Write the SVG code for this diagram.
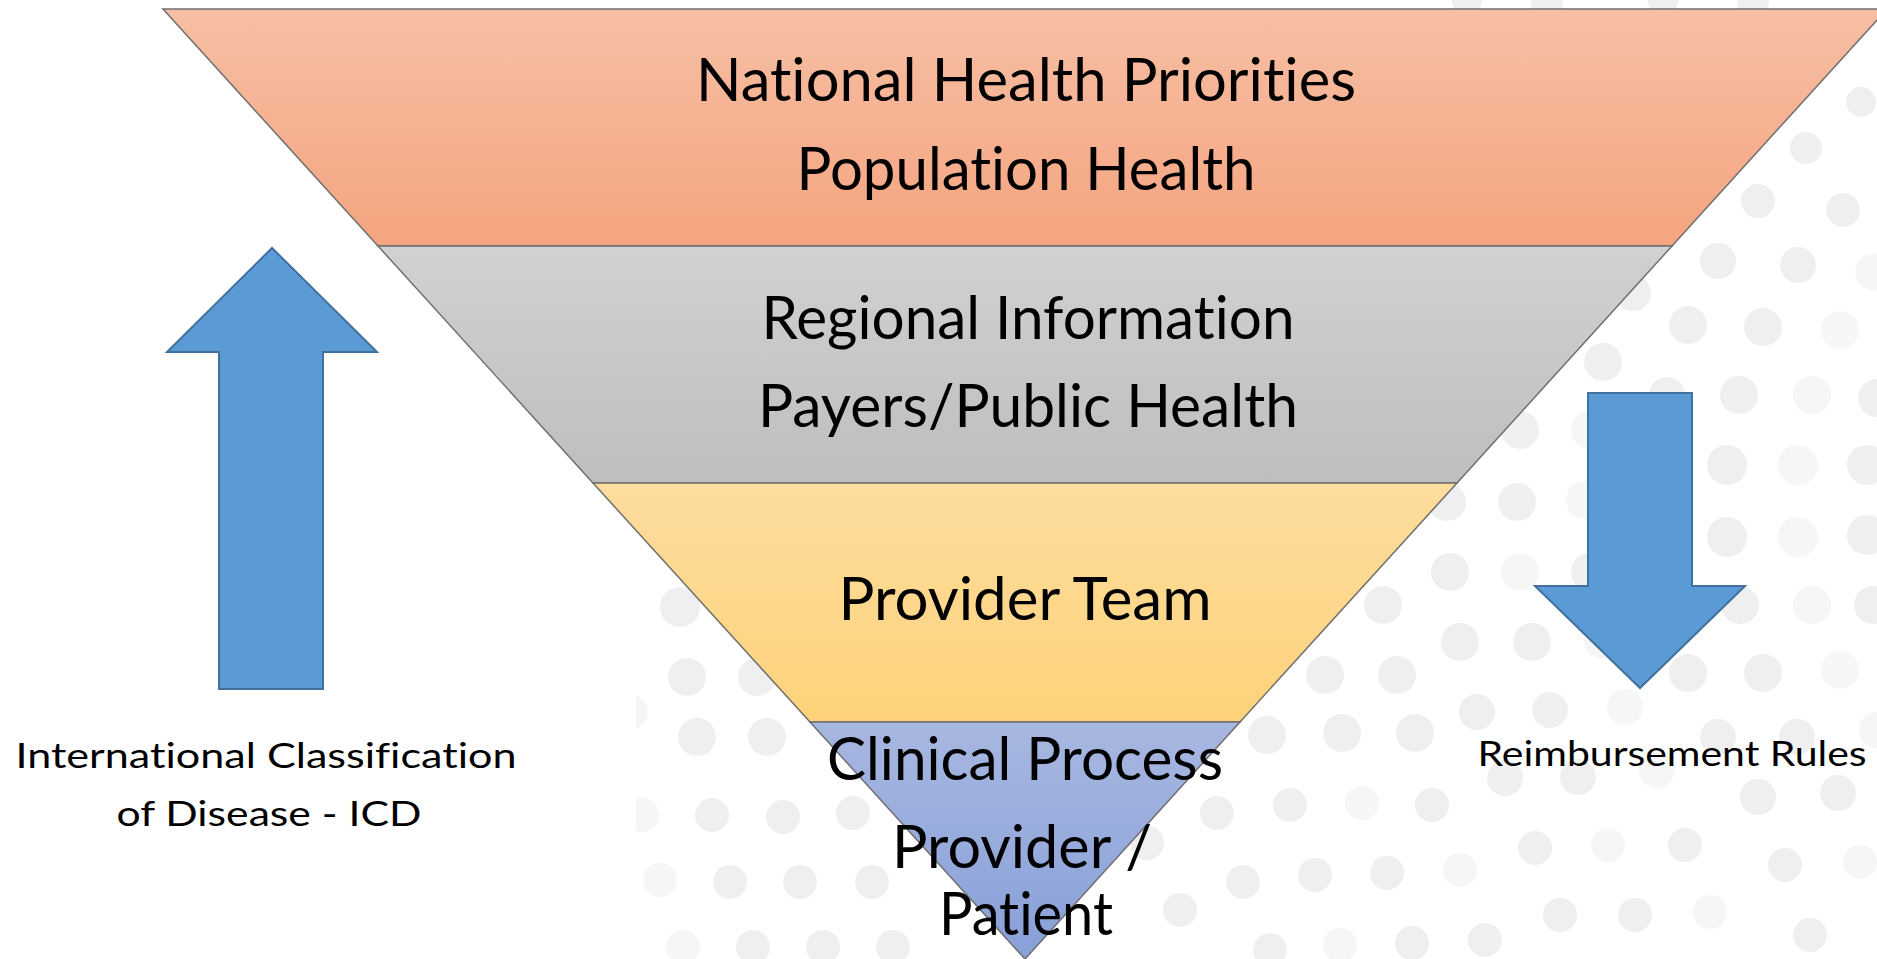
<svg xmlns="http://www.w3.org/2000/svg" width="1877" height="959" viewBox="0 0 1877 959">
  <style>
    .band { stroke: #6f6f6f; stroke-width: 1.5; stroke-linejoin: miter; }
    .big { font-family: Lato, "Open Sans", "Liberation Sans", sans-serif; font-size: 60px; fill: #000; text-anchor: middle; font-variant-ligatures: none; }
    .small { font-family: Lato, "Open Sans", "Liberation Sans", sans-serif; font-size: 35px; fill: #000; text-anchor: middle; font-variant-ligatures: none; }
    .arrow { fill: #5b9bd5; stroke: #41719c; stroke-width: 2; }
    .d { fill: #efefef; }
    .f { fill: #f6f6f6; }
  </style>
  <defs>
    <linearGradient id="gOrange" x1="0" y1="0" x2="0" y2="1">
      <stop offset="0" stop-color="#f6bfa4"/>
      <stop offset="1" stop-color="#f5a47f"/>
    </linearGradient>
    <linearGradient id="gGray" x1="0" y1="0" x2="0" y2="1">
      <stop offset="0" stop-color="#d1d1d1"/>
      <stop offset="1" stop-color="#bebebe"/>
    </linearGradient>
    <linearGradient id="gYellow" x1="0" y1="0" x2="0" y2="1">
      <stop offset="0" stop-color="#fddd9e"/>
      <stop offset="1" stop-color="#fdd27a"/>
    </linearGradient>
    <linearGradient id="gBlue" x1="0" y1="0" x2="0" y2="1">
      <stop offset="0" stop-color="#a7b7e0"/>
      <stop offset="1" stop-color="#88a0d8"/>
    </linearGradient>
    <clipPath id="dotArea">
      <rect x="636" y="0" width="1241" height="959"/>
    </clipPath>
  </defs>

  <rect width="1877" height="959" fill="#ffffff"/>

  <!-- dotted backdrop (right and lower part of the slide) -->
  <g id="backdrop" clip-path="url(#dotArea)">
    <!-- top right -->
    <circle class="d" cx="1467" cy="0" r="15"/>
    <circle class="d" cx="1547" cy="3" r="16"/>
    <circle class="d" cx="1663" cy="-2" r="16"/>
    <circle class="d" cx="1753" cy="2" r="16"/>
    <circle class="d" cx="1861" cy="102" r="15"/>
    <circle class="d" cx="1806" cy="148" r="16"/>
    <circle class="d" cx="1758" cy="201" r="17"/>
    <circle class="d" cx="1843" cy="210" r="17"/>
    <circle class="d" cx="1718" cy="261" r="18"/>
    <circle class="d" cx="1798" cy="265" r="18"/>
    <circle class="f" cx="1873" cy="272" r="18"/>
    <circle class="d" cx="1633" cy="293" r="18"/>
    <circle class="d" cx="1688" cy="325" r="19"/>
    <circle class="d" cx="1763" cy="327" r="19"/>
    <circle class="f" cx="1840" cy="330" r="19"/>
    <circle class="d" cx="1603" cy="362" r="19"/>
    <circle class="d" cx="1667" cy="395" r="18"/>
    <circle class="d" cx="1739" cy="395" r="19"/>
    <circle class="f" cx="1812" cy="395" r="19"/>
    <circle class="d" cx="1877" cy="398" r="19"/>
    <circle class="d" cx="1520" cy="430" r="19"/>
    <circle class="f" cx="1590" cy="430" r="19"/>
    <circle class="d" cx="1727" cy="465" r="20"/>
    <circle class="f" cx="1798" cy="465" r="20"/>
    <circle class="d" cx="1867" cy="465" r="20"/>
    <circle class="d" cx="1447" cy="502" r="19"/>
    <circle class="d" cx="1517" cy="502" r="19"/>
    <circle class="f" cx="1585" cy="500" r="19"/>
    <circle class="d" cx="1727" cy="537" r="20"/>
    <circle class="f" cx="1798" cy="537" r="20"/>
    <circle class="d" cx="1867" cy="535" r="20"/>
    <circle class="d" cx="1450" cy="572" r="19"/>
    <circle class="f" cx="1520" cy="572" r="19"/>
    <circle class="d" cx="1590" cy="572" r="19"/>
    <circle class="d" cx="1383" cy="605" r="19"/>
    <circle class="d" cx="1740" cy="605" r="19"/>
    <circle class="f" cx="1812" cy="605" r="19"/>
    <circle class="d" cx="1873" cy="605" r="19"/>
    <circle class="d" cx="1460" cy="642" r="19"/>
    <circle class="d" cx="1532" cy="642" r="19"/>
    <circle class="f" cx="1603" cy="640" r="19"/>
    <circle class="d" cx="1325" cy="675" r="19"/>
    <circle class="d" cx="1397" cy="675" r="19"/>
    <circle class="d" cx="1688" cy="673" r="19"/>
    <circle class="d" cx="1763" cy="673" r="19"/>
    <circle class="f" cx="1840" cy="670" r="19"/>
    <!-- lower right -->
    <circle class="d" cx="1477" cy="712" r="18"/>
    <circle class="d" cx="1550" cy="710" r="18"/>
    <circle class="f" cx="1625" cy="707" r="18"/>
    <circle class="d" cx="1267" cy="735" r="19"/>
    <circle class="d" cx="1342" cy="733" r="19"/>
    <circle class="d" cx="1415" cy="733" r="19"/>
    <circle class="d" cx="1718" cy="737" r="18"/>
    <circle class="d" cx="1797" cy="737" r="18"/>
    <circle class="f" cx="1877" cy="730" r="18"/>
    <circle class="d" cx="1505" cy="778" r="18"/>
    <circle class="d" cx="1578" cy="777" r="18"/>
    <circle class="f" cx="1657" cy="770" r="18"/>
    <circle class="d" cx="1758" cy="797" r="18"/>
    <circle class="d" cx="1838" cy="793" r="18"/>
    <circle class="d" cx="1217" cy="813" r="17"/>
    <circle class="d" cx="1290" cy="805" r="17"/>
    <circle class="f" cx="1362" cy="803" r="17"/>
    <circle class="d" cx="1432" cy="805" r="17"/>
    <circle class="d" cx="1147" cy="843" r="17"/>
    <circle class="d" cx="1535" cy="848" r="17"/>
    <circle class="f" cx="1608" cy="845" r="17"/>
    <circle class="d" cx="1685" cy="845" r="17"/>
    <circle class="d" cx="1785" cy="865" r="17"/>
    <circle class="f" cx="1860" cy="862" r="17"/>
    <circle class="d" cx="1243" cy="882" r="17"/>
    <circle class="d" cx="1315" cy="875" r="17"/>
    <circle class="d" cx="1387" cy="873" r="17"/>
    <circle class="f" cx="1460" cy="870" r="17"/>
    <circle class="d" cx="1180" cy="910" r="17"/>
    <circle class="d" cx="1560" cy="915" r="17"/>
    <circle class="d" cx="1635" cy="915" r="17"/>
    <circle class="f" cx="1710" cy="912" r="17"/>
    <circle class="d" cx="1810" cy="935" r="17"/>
    <circle class="d" cx="1270" cy="950" r="17"/>
    <circle class="f" cx="1340" cy="945" r="17"/>
    <circle class="d" cx="1412" cy="943" r="17"/>
    <circle class="d" cx="1485" cy="940" r="17"/>
    <!-- lower left, beside the tip -->
    <circle class="d" cx="680" cy="607" r="20"/>
    <circle class="d" cx="687" cy="677" r="19"/>
    <circle class="d" cx="757" cy="677" r="19"/>
    <circle class="f" cx="630" cy="712" r="18"/>
    <circle class="d" cx="697" cy="737" r="19"/>
    <circle class="d" cx="767" cy="737" r="19"/>
    <circle class="f" cx="642" cy="815" r="17"/>
    <circle class="d" cx="712" cy="815" r="17"/>
    <circle class="d" cx="783" cy="817" r="17"/>
    <circle class="d" cx="853" cy="813" r="17"/>
    <circle class="f" cx="660" cy="880" r="17"/>
    <circle class="d" cx="730" cy="882" r="17"/>
    <circle class="d" cx="800" cy="882" r="17"/>
    <circle class="d" cx="872" cy="882" r="17"/>
    <circle class="f" cx="683" cy="947" r="17"/>
    <circle class="d" cx="753" cy="947" r="17"/>
    <circle class="d" cx="823" cy="947" r="17"/>
    <circle class="d" cx="893" cy="947" r="17"/>
  </g>

  <!-- inverted pyramid, top to bottom -->
  <g id="level-national">
    <polygon class="band" points="163,9 1887,9 1672,246 378,246" fill="url(#gOrange)"/>
    <text class="big" x="1026" y="101" textLength="660" lengthAdjust="spacingAndGlyphs">National Health Priorities</text>
    <text class="big" x="1026" y="190" textLength="459" lengthAdjust="spacingAndGlyphs">Population Health</text>
  </g>
  <g id="level-regional">
    <polygon class="band" points="378,246 1672,246 1457,483 593,483" fill="url(#gGray)"/>
    <text class="big" x="1028" y="339" textLength="533" lengthAdjust="spacingAndGlyphs">Regional Information</text>
    <text class="big" x="1028" y="427" textLength="540" lengthAdjust="spacingAndGlyphs">Payers/Public Health</text>
  </g>
  <g id="level-team">
    <polygon class="band" points="593,483 1457,483 1240,722 810,722" fill="url(#gYellow)"/>
    <text class="big" x="1025" y="620" textLength="373" lengthAdjust="spacingAndGlyphs">Provider Team</text>
  </g>
  <g id="level-clinical">
    <polygon class="band" points="810,722 1240,722 1025,959" fill="url(#gBlue)"/>
    <text class="big" x="1025" y="780" textLength="396" lengthAdjust="spacingAndGlyphs">Clinical Process</text>
    <text class="big" x="1022" y="868" textLength="260" lengthAdjust="spacingAndGlyphs">Provider /</text>
    <text class="big" x="1026" y="935" textLength="174" lengthAdjust="spacingAndGlyphs">Patient</text>
  </g>

  <!-- side arrows and their captions -->
  <g id="arrow-up">
    <polygon class="arrow" points="272,248 377,352 323,352 323,689 219,689 219,352 167,352"/>
    <text class="small" x="266" y="768" textLength="501" lengthAdjust="spacingAndGlyphs">International Classification</text>
    <text class="small" x="269" y="826" textLength="305" lengthAdjust="spacingAndGlyphs">of Disease - ICD</text>
  </g>
  <g id="arrow-down">
    <polygon class="arrow" points="1588,393 1692,393 1692,586 1745,586 1640,688 1535,586 1588,586"/>
    <text class="small" x="1672" y="766" textLength="389" lengthAdjust="spacingAndGlyphs">Reimbursement Rules</text>
  </g>

  <g id="connectors"/>
</svg>
